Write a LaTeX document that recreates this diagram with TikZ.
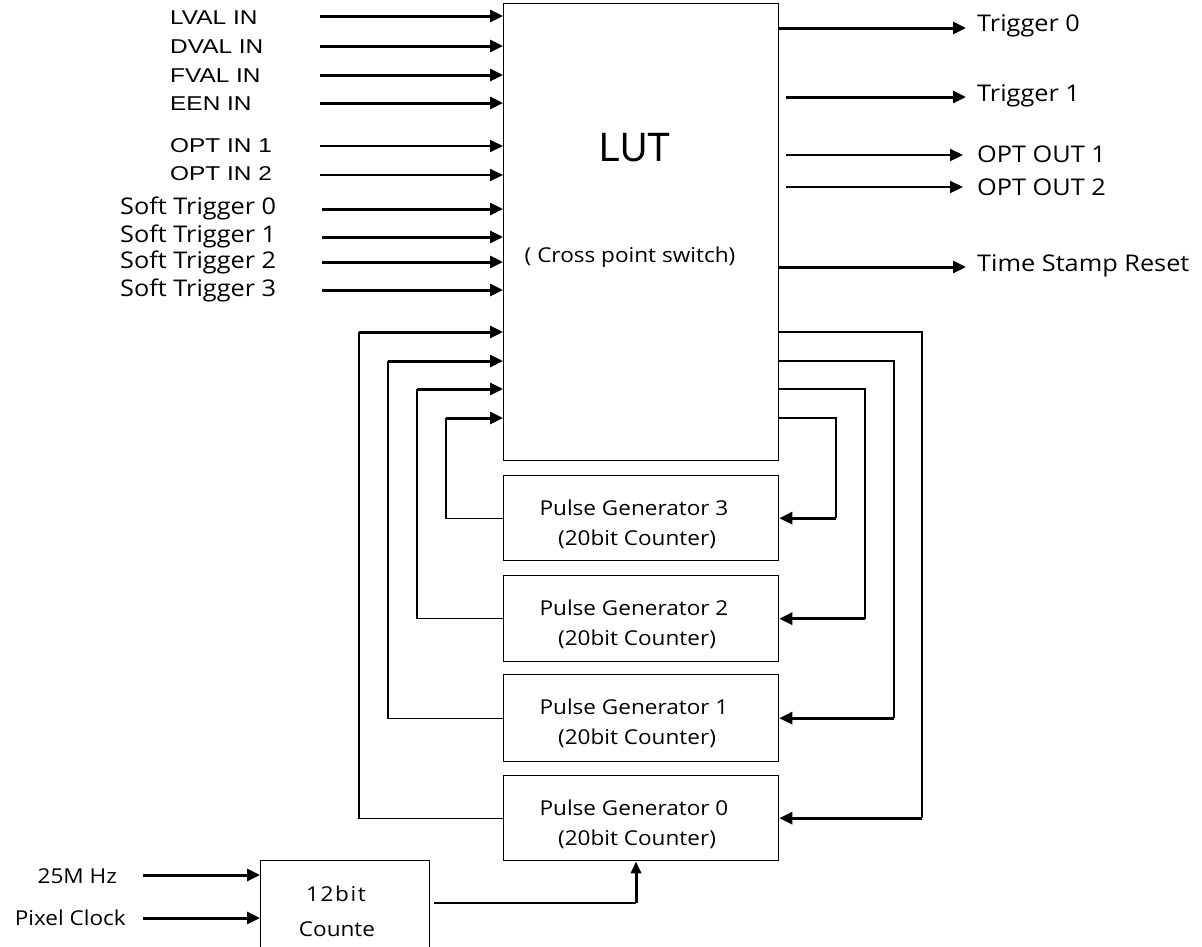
\documentclass[tikz,border=0pt]{standalone}
\usepackage{fontspec}
\usetikzlibrary{arrows.meta,calc}
\newfontfamily\fa{Liberation Sans}[FakeStretch=1.22]
\newfontfamily\fl{Liberation Sans}[FakeStretch=0.92]
\newfontfamily\fo{Open Sans}[FakeStretch=1.1]
\begin{document}
\begin{tikzpicture}[x=1pt,y=-1pt,
  box/.style={draw,line width=1.3pt,inner sep=0pt,minimum width=275pt,anchor=north west},
  thk/.style={line width=3pt,-{Triangle[length=13pt,width=12pt]}},
  med/.style={line width=2pt,-{Triangle[length=13pt,width=12pt]}},
  thn/.style={line width=1.2pt},
  la/.style={font=\fa\fontsize{20}{22}\selectfont,inner sep=0pt,anchor=west},
  lo/.style={font=\fo\fontsize{23}{26}\selectfont,inner sep=0pt,anchor=west},
  lp/.style={font=\fo\fontsize{20.5}{23}\selectfont,inner sep=0pt},
]
\useasboundingbox (0,0) rectangle (1202,946);
\fill[white] (0,0) rectangle (1202,946);

% main blocks
\node[box,minimum height=457pt] (lut) at (503,3) {};
\node[font=\fl\fontsize{41}{44}\selectfont,inner sep=0pt] (luttxt) at (635,148) {LUT};
\node[lp] (cps) at (630,257) {( Cross point switch)};

\node[box,minimum height=85pt] (pg3) at (503,475) {};
\node[box,minimum height=86pt] (pg2) at (503,575) {};
\node[box,minimum height=87pt] (pg1) at (503,674) {};
\node[box,minimum height=85pt] (pg0) at (503,775) {};
\node[lp] (pg3a) at (634,508) {Pulse Generator 3};
\node[lp] (pg3b) at (637,539) {(20bit Counter)};
\node[lp] (pg2a) at (634,608) {Pulse Generator 2};
\node[lp] (pg2b) at (637,639) {(20bit Counter)};
\node[lp] (pg1a) at (634,707) {Pulse Generator 1};
\node[lp] (pg1b) at (637,738) {(20bit Counter)};
\node[lp] (pg0a) at (634,808) {Pulse Generator 0};
\node[lp] (pg0b) at (637,839) {(20bit Counter)};

\node[box,minimum width=169pt,minimum height=92pt] (cnt) at (260,860) {};
\node[lp] (cnta) at (336,894) {\addfontfeature{LetterSpace=8}12bit};
\node[lp] (cntb) at (337,929) {Counte};

% inputs
\node[la] (lval) at (170,18) {LVAL IN};
\node[la] (dval) at (170,47) {DVAL IN};
\node[la] (fval) at (170,76) {FVAL IN};
\node[la] (een) at (170,104) {EEN IN};
\node[la] (opt1) at (170,146) {OPT IN 1};
\node[la] (opt2) at (170,174) {OPT IN 2};
\node[lo] (st0) at (120,208) {Soft Trigger 0};
\node[lo] (st1) at (120,236) {Soft Trigger 1};
\node[lo] (st2) at (120,262) {Soft Trigger 2};
\node[lo] (st3) at (120,290) {Soft Trigger 3};

\coordinate (ilval) at (320,16);
\coordinate (idval) at (320,46);
\coordinate (ifval) at (320,75);
\coordinate (ieen) at (320,103);
\coordinate (iopt1) at (320,146);
\coordinate (iopt2) at (320,175);
\coordinate (ist0) at (322,209);
\coordinate (ist1) at (322,237);
\coordinate (ist2) at (322,262);
\coordinate (ist3) at (322,290);
\foreach \c in {ilval,idval,ifval,ieen,ist0,ist1,ist2,ist3}
  \draw[thk] (\c) -- (\c -| lut.west);
\foreach \c in {iopt1,iopt2}
  \draw[med] (\c) -- (\c -| lut.west);

% outputs
\coordinate (ot0) at (966,28);
\coordinate (ot1s) at (786,97);
\coordinate (ot1) at (966,97);
\coordinate (oo1s) at (786,155);
\coordinate (oo1) at (963,155);
\coordinate (oo2s) at (786,187);
\coordinate (oo2) at (963,187);
\coordinate (ots) at (966,267);
\draw[thk] (ot0 -| lut.east) -- (ot0);
\draw[thk] (ot1s) -- (ot1);
\draw[med] (oo1s) -- (oo1);
\draw[med] (oo2s) -- (oo2);
\draw[thk] (ots -| lut.east) -- (ots);
\node[lo] (trg0) at (977,26) {Trigger 0};
\node[lo] (trg1) at (977,96) {Trigger 1};
\node[lo] (oout1) at (977,154) {OPT OUT 1};
\node[lo] (oout2) at (977,187) {OPT OUT 2};
\node[lo] (tsr) at (977,266) {Time Stamp Reset};

% feedback from pulse generators into LUT (left)
\coordinate (fl0) at (359,332);
\coordinate (fl1) at (388,361);
\coordinate (fl2) at (417,389);
\coordinate (fl3) at (446,418);
\foreach \c/\p in {fl0/pg0,fl1/pg1,fl2/pg2,fl3/pg3}{
  \draw[thn] (\p.west) -- (\c |- \p.west) -- (\c);
  \draw[thk] (\c) -- (\c -| lut.west);
}

% LUT outputs to pulse generators (right)
\coordinate (fr0) at (922,332);
\coordinate (fr1) at (894,361);
\coordinate (fr2) at (865,389);
\coordinate (fr3) at (836,418);
\foreach \c/\p in {fr0/pg0,fr1/pg1,fr2/pg2,fr3/pg3}{
  \draw[thn] (\c -| lut.east) -- (\c) -- (\c |- \p.east);
  \draw[thk] (\c |- \p.east) -- (\p.east);
}

% clock inputs and counter
\node[lp,anchor=east] (mhz) at (117,876) {25M Hz};
\node[lp,anchor=east] (pix) at (126,918) {Pixel Clock};
\coordinate (i25) at (143,875);
\coordinate (ipc) at (143,918);
\draw[thk] (i25) -- (i25 -| cnt.west);
\draw[thk] (ipc) -- (ipc -| cnt.west);
\coordinate (cos) at (434,903);
\coordinate (coc) at (636,903);
\draw[thn] (cos) -- (coc);
\draw[line width=3pt,-{Triangle[length=12pt,width=10pt]}] (coc) -- (coc |- pg0.south);
\end{tikzpicture}
\end{document}
